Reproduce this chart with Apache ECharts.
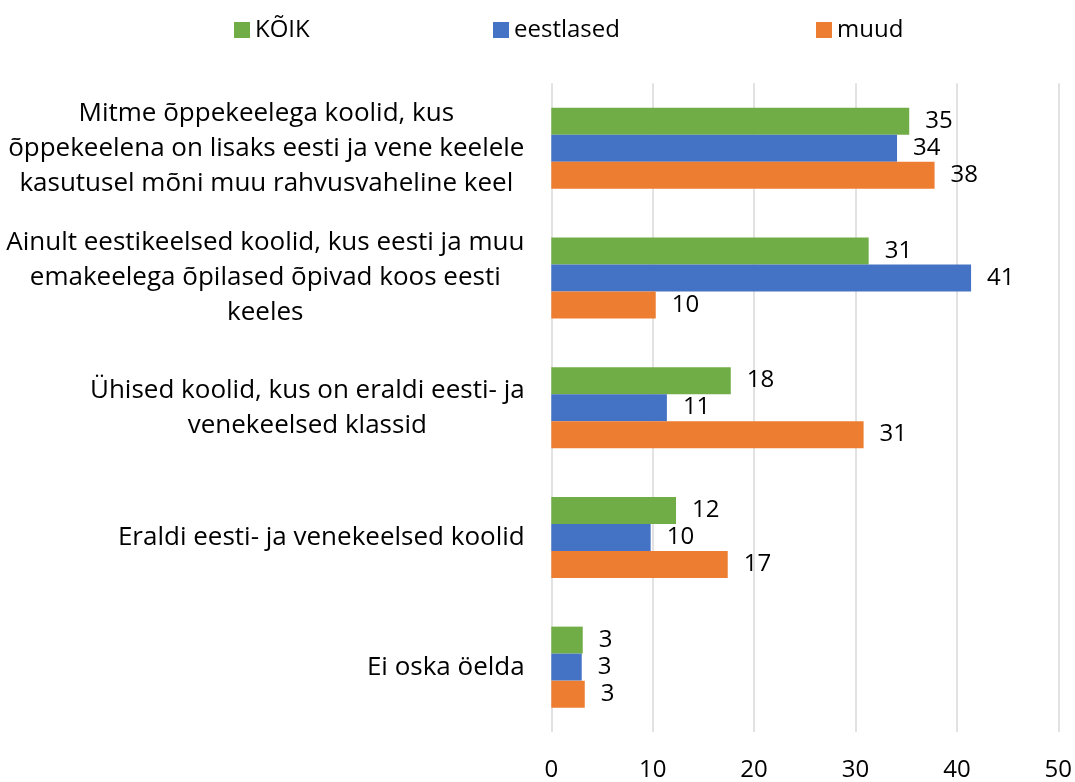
<!DOCTYPE html>
<html>
<head>
<meta charset="utf-8">
<script src="https://cdn.jsdelivr.net/npm/echarts@6/dist/echarts.min.js"></script>
<style>
    html, body { margin: 0; padding: 0; background: #fff; }
    #chart { width: 1075px; height: 782px; }
</style>
</head>
<body>
<div id="chart"></div>
<script>
const categories = [
    'Mitme õppekeelega koolid, kus\nõppekeelena on lisaks eesti ja vene keelele\nkasutusel mõni muu rahvusvaheline keel',
    'Ainult eestikeelsed koolid, kus eesti ja muu\nemakeelega õpilased õpivad koos eesti\nkeeles',
    'Ühised koolid, kus on eraldi eesti- ja\nvenekeelsed klassid',
    'Eraldi eesti- ja venekeelsed koolid',
    'Ei oska öelda'
];
const koik = [35.3, 31.3, 17.7, 12.3, 3.1];
const eestlased = [34.1, 41.4, 11.4, 9.8, 3.0];
const muud = [37.8, 10.3, 30.8, 17.4, 3.3];

const fontFamily = 'Open Sans';
const fontSize = 24;
const catFontSize = 26;

// width of the widest line of every category label, so lines can be centred in the block
const measureCtx = document.createElement('canvas').getContext('2d');
measureCtx.font = catFontSize + 'px "' + fontFamily + '"';
const rich = {};
categories.forEach((cat, i) => {
    const widest = Math.max(...cat.split('\n').map(line => measureCtx.measureText(line).width));
    rich['c' + i] = {
        width: Math.ceil(widest) + 1,
        align: 'center',
        fontSize: catFontSize,
        lineHeight: 35,
        fontFamily: fontFamily,
        color: '#000'
    };
});

const myChart = echarts.init(document.getElementById('chart'));

const seriesDefaults = {
    type: 'bar',
    animation: false,
    barWidth: 27,
    barGap: '0%',
    label: {
        show: true,
        position: 'right',
        distance: 16,
        fontSize: fontSize,
        fontFamily: fontFamily,
        color: '#000',
        formatter: (item) => Math.round(item.value)
    }
};

const legendDefaults = {
    top: 13,
    icon: 'rect',
    itemWidth: 16,
    itemHeight: 16,
    selectedMode: false,
    textStyle: {
        fontSize: fontSize,
        fontFamily: fontFamily,
        color: '#000'
    }
};

const option = {
    textStyle: { fontFamily: fontFamily },
    legend: [
        { ...legendDefaults, left: 229, data: ['KÕIK'] },
        { ...legendDefaults, left: 488, data: ['eestlased'] },
        { ...legendDefaults, left: 811, data: ['muud'] }
    ],
    grid: {
        left: 551.3,
        right: 16.7,
        top: 83.3,
        bottom: 49.3,
        containLabel: false
    },
    xAxis: {
        type: 'value',
        min: 0,
        max: 50,
        interval: 10,
        axisLine: { show: false },
        axisTick: { show: false },
        splitLine: {
            lineStyle: { color: '#d9d9d9', width: 1.5 }
        },
        axisLabel: {
            fontSize: fontSize,
            fontFamily: fontFamily,
            color: '#000',
            margin: 26
        }
    },
    yAxis: {
        type: 'category',
        inverse: true,
        data: categories,
        axisLine: { show: false },
        axisTick: { show: false },
        axisLabel: {
            margin: 26,
            align: 'right',
            formatter: (value, index) => value.split('\n').map(line => '{c' + index + '|' + line + '}').join('\n'),
            rich: rich
        }
    },
    series: [
        { ...seriesDefaults, name: 'KÕIK', data: koik, color: '#70ad47' },
        { ...seriesDefaults, name: 'eestlased', data: eestlased, color: '#4472c4' },
        { ...seriesDefaults, name: 'muud', data: muud, color: '#ed7d31' }
    ]
};

myChart.setOption(option);

window.onresize = function () {
    myChart.resize();
};
</script>
</body>
</html>
